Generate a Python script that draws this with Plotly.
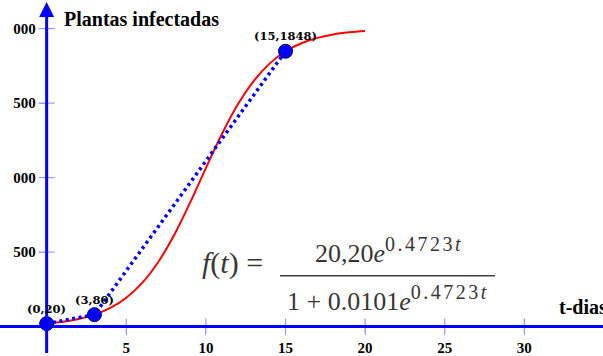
import plotly.graph_objects as go

# Red logistic curve values
t_curve = [0, 1, 2, 3, 4, 5, 6, 7, 8, 9, 10, 11, 12, 13, 14, 15, 16, 17, 18, 19, 20]
f_curve = [20, 32, 51, 80, 125, 194, 293, 432, 613, 830, 1064, 1291, 1490, 1648, 1765, 1848, 1902, 1938, 1961, 1975, 1984]

# Observed points
t_obs = [0, 3, 15]
f_obs = [20, 80, 1848]
obs_labels = ["(0,20)", "(3,80)", "(15,1848)"]

x_ticks = [5, 10, 15, 20, 25, 30]
y_ticks = [500, 1000, 1500, 2000]
y_ticktext = ["500", "000", "500", "000"]

X_RANGE = [-2.93, 34.94]
Y_RANGE = [-137, 2192]
W, H = 603, 356

def ypos(v):
    return (v - Y_RANGE[0]) / (Y_RANGE[1] - Y_RANGE[0])

def xpos(v):
    return (v - X_RANGE[0]) / (X_RANGE[1] - X_RANGE[0])

BLUE = "#0000ff"
TICKC = "#9a9aff"
SERIF = "Liberation Serif"

fig = go.Figure()

fig.add_trace(go.Scatter(x=t_curve, y=f_curve, mode="lines",
                         line=dict(color="#ff0000", width=2, shape="spline"),
                         hoverinfo="skip"))
fig.add_trace(go.Scatter(x=t_obs, y=f_obs, mode="lines",
                         line=dict(color=BLUE, width=3.5, dash="3px,3.5px"),
                         hoverinfo="skip"))
fig.add_trace(go.Scatter(x=t_obs, y=f_obs, mode="markers",
                         marker=dict(color=BLUE, size=14, line=dict(color="#000066", width=1)),
                         hoverinfo="skip"))

shapes = []
for v in x_ticks:
    shapes.append(dict(type="line", xref="x", yref="y", x0=v, x1=v, ysizemode="pixel",
                       yanchor=0, y0=-7, y1=8, line=dict(color=TICKC, width=1.2)))
for v in y_ticks:
    shapes.append(dict(type="line", xref="x", yref="y", y0=v, y1=v, xsizemode="pixel",
                       xanchor=0, x0=-8, x1=8, line=dict(color=TICKC, width=1.2)))
shapes.append(dict(type="line", xref="paper", yref="y", x0=0, x1=1, y0=0, y1=0,
                   line=dict(color=BLUE, width=3)))
# fraction bar of formula
shapes.append(dict(type="line", xref="paper", yref="paper", x0=280/W, x1=495/W,
                   y0=1-283/H, y1=1-283/H, line=dict(color="#404040", width=1.5)))
fig.update_layout(shapes=shapes)

ann = []
ann.append(dict(x=0, y=2178, ax=0, ay=Y_RANGE[0] - 50, xref="x", yref="y", axref="x", ayref="y",
                showarrow=True, arrowhead=2, arrowsize=1, arrowwidth=3, arrowcolor=BLUE, text=""))
BOLD20 = dict(family=SERIF, size=20, color="black")
ann.append(dict(x=62/W, y=1-20/H, xref="paper", yref="paper", xanchor="left", yanchor="middle",
                text="<b>Plantas infectadas</b>", showarrow=False, font=BOLD20))
ann.append(dict(x=557/W, y=1-315/H, xref="paper", yref="paper", xanchor="left", yanchor="middle",
                text="<b>t-dias</b>", showarrow=False, font=BOLD20))
for tx, fy, lab in zip(t_obs, f_obs, obs_labels):
    ann.append(dict(x=tx, y=fy, xref="x", yref="y", text="<b>" + lab + "</b>", showarrow=False,
                    xshift=0, yshift=15,
                    font=dict(family="DejaVu Serif", size=11.5, color="black")))
FF = dict(family=SERIF, size=26, color="#383634")
SUP = '<sup><span style="font-size:20px;letter-spacing:2.5px">0.4723<i>t</i></span></sup>'
ann.append(dict(x=232/W, y=1-289/H, xref="paper", yref="paper", showarrow=False,
                text="<i>f</i>(<i>t</i>) =", font=dict(family=SERIF, size=30, color="#383634")))
ann.append(dict(x=389/W, y=1-277/H, xref="paper", yref="paper", showarrow=False,
                yanchor="bottom", text="20,20<i>e</i>" + SUP, font=FF))
ann.append(dict(x=388/W, y=1-286/H, xref="paper", yref="paper", showarrow=False,
                yanchor="top", text="1 + 0.0101<i>e</i>" + SUP, font=FF))
fig.update_layout(annotations=ann)

TF = dict(family=SERIF, size=15, color="black")
fig.update_layout(
    width=W, height=H, margin=dict(l=0, r=0, t=0, b=0),
    paper_bgcolor="white", plot_bgcolor="white", showlegend=False,
    xaxis=dict(range=X_RANGE, showgrid=False, zeroline=False, showline=False,
               tickvals=x_ticks, ticktext=["<b>%d</b>" % v for v in x_ticks],
               ticks="outside", ticklen=7, tickcolor=TICKC, tickwidth=1.2,
               anchor="free", position=ypos(0), tickfont=TF),
    yaxis=dict(range=Y_RANGE, showgrid=False, zeroline=False, showline=False,
               tickvals=y_ticks, ticktext=["<b>%s</b>" % s for s in y_ticktext],
               ticks="outside", ticklen=8,
               tickcolor=TICKC, tickwidth=1.2, anchor="free", position=xpos(0), tickfont=TF),
)

fig.write_html("out.html")
